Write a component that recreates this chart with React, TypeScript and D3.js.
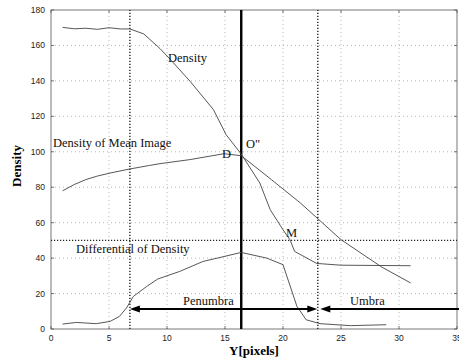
import React from "react";
import * as d3 from "d3";

// curve data: [x (pixels), density]
const densityCurve: [number, number][] = [
  [1, 170.2], [2, 169.4], [3, 169.7], [4, 169.1], [5, 170], [6, 169.3], [6.8, 169.3],
  [8, 166.5], [9.4, 158.2], [10.3, 152], [12, 139.7], [14, 123.8], [15.1, 109.6],
  [16.4, 98.7], [18, 82.4], [18.9, 67.3], [20, 56], [20.6, 50.4], [21, 43.8],
  [22.9, 37], [25, 36], [31, 35.7],
];
const meanImageCurve: [number, number][] = [
  [1, 78], [2, 81.5], [3, 84.3], [4, 86.3], [5.1, 88], [6.8, 90.3], [8.5, 92.3],
  [9.4, 93.3], [12, 95.6], [14.9, 98.9], [16.4, 97.8], [19, 84.3], [21.5, 71.1],
  [25, 50.4], [28.5, 35], [31, 26],
];
const differentialCurve: [number, number][] = [
  [1, 2.8], [2.2, 3.7], [3.9, 3], [5.1, 4.3], [5.9, 7.1], [6.5, 11.8], [7.1, 18.4],
  [8.25, 24], [9.2, 28.2], [11.1, 32.5], [13.1, 38.1], [16.4, 43.2], [18.6, 40],
  [20, 36.3], [21.2, 12.8], [22, 5.2], [23.2, 3], [25.8, 1.9], [28.9, 2.4],
];
const xTicks = [0, 5, 10, 15, 20, 25, 30, 35];
const yTicks = [0, 20, 40, 60, 80, 100, 120, 140, 160, 180];
const penumbraStart = 6.8;
const umbraStart = 23;
const centerX = 16.4;
const thresholdY = 50;
const arrowY = 11.3;

export default function App() {
  const W = 459, H = 361;
  const m = { left: 51, right: 2, top: 10, bottom: 32 };
  const x = d3.scaleLinear().domain([0, 35]).range([m.left, W - m.right]);
  const y = d3.scaleLinear().domain([0, 180]).range([H - m.bottom, m.top]);
  const line = d3.line<[number, number]>().x((d) => x(d[0])).y((d) => y(d[1]));
  const x0 = x(0), x1 = x(35), y0 = y(0), y1 = y(180);
  const ay = y(arrowY);
  const aL = 10, aH = 3.5;
  const leftHead = (tx: number) => `${tx},${ay} ${tx + aL},${ay - aH} ${tx + aL},${ay + aH}`;
  const rightHead = (tx: number) => `${tx},${ay} ${tx - aL},${ay - aH} ${tx - aL},${ay + aH}`;
  const pen0 = x(penumbraStart), pen1 = x(umbraStart) - 0.5, umb0 = x(umbraStart) + 2.5;
  const serif = "'Liberation Serif', 'DejaVu Serif', serif";
  const sans = "'Liberation Sans', Arial, sans-serif";

  return (
    <svg width={W} height={H} style={{ position: "absolute", left: 0, top: 0, background: "#fff" }}>
      {/* grid */}
      <g stroke="#999" strokeWidth={0.7} strokeDasharray="1,3">
        {xTicks.slice(1, -1).map((t) => (
          <line key={"gx" + t} x1={x(t)} x2={x(t)} y1={y0} y2={y1} />
        ))}
        {yTicks.slice(1, -1).map((t) => (
          <line key={"gy" + t} x1={x0} x2={x1} y1={y(t)} y2={y(t)} />
        ))}
      </g>
      {/* frame */}
      <rect x={x0} y={y1} width={x1 - x0} height={y0 - y1} fill="none" stroke="#555" strokeWidth={0.8} />
      <g stroke="#555" strokeWidth={0.8}>
        {xTicks.map((t) => (
          <g key={"tx" + t}>
            <line x1={x(t)} x2={x(t)} y1={y0} y2={y0 - 3} />
            <line x1={x(t)} x2={x(t)} y1={y1} y2={y1 + 3} />
          </g>
        ))}
        {yTicks.map((t) => (
          <g key={"ty" + t}>
            <line x1={x0} x2={x0 + 3} y1={y(t)} y2={y(t)} />
            <line x1={x1} x2={x1 - 3} y1={y(t)} y2={y(t)} />
          </g>
        ))}
      </g>
      {/* tick labels */}
      <g fontFamily={sans} fontSize={8.5} fill="#222">
        {xTicks.map((t) => (
          <text key={"lx" + t} x={x(t)} y={y0 + 12} textAnchor="middle">{t}</text>
        ))}
        {yTicks.map((t) => (
          <text key={"ly" + t} x={x0 - 6} y={y(t) + 3} textAnchor="end">{t}</text>
        ))}
      </g>
      {/* reference lines */}
      <g stroke="#222" strokeWidth={1.4} strokeDasharray="1.2,1.8">
        <line x1={x(penumbraStart)} x2={x(penumbraStart)} y1={y0} y2={y1} />
        <line x1={x(umbraStart)} x2={x(umbraStart)} y1={y0} y2={y1} />
        <line x1={x0} x2={x1} y1={y(thresholdY)} y2={y(thresholdY)} />
      </g>
      <line x1={x(centerX)} x2={x(centerX)} y1={y0} y2={y1} stroke="#000" strokeWidth={2.4} />
      {/* curves */}
      <g fill="none" stroke="#444" strokeWidth={0.9}>
        <path d={line(densityCurve) || ""} />
        <path d={line(meanImageCurve) || ""} />
        <path d={line(differentialCurve) || ""} />
      </g>
      {/* penumbra / umbra arrows */}
      <g stroke="#000" strokeWidth={2}>
        <line x1={pen0 + 4} x2={pen1 - 4} y1={ay} y2={ay} />
        <line x1={umb0 + 4} x2={W} y1={ay} y2={ay} />
      </g>
      <g fill="#000">
        <polygon points={leftHead(pen0)} />
        <polygon points={rightHead(pen1)} />
        <polygon points={leftHead(umb0)} />
      </g>
      {/* annotations */}
      <g fontFamily={serif} fontSize={12.5} fill="#111">
        <text x={168} y={62}>Density</text>
        <text x={53} y={147}>Density of Mean Image</text>
        <text x={222} y={158}>D</text>
        <text x={246} y={148}>O"</text>
        <text x={286} y={237}>M</text>
        <text x={76} y={253}>Differential of Density</text>
        <text x={183} y={305}>Penumbra</text>
        <text x={350} y={305}>Umbra</text>
      </g>
      <text x={(x0 + x1) / 2} y={355} textAnchor="middle" fontFamily={serif} fontWeight="bold" fontSize={13}>
        Y[pixels]
      </text>
      <text
        transform={`translate(21, ${y(92)}) rotate(-90)`}
        textAnchor="middle"
        fontFamily={serif}
        fontWeight="bold"
        fontSize={13}
      >
        Density
      </text>
    </svg>
  );
}
